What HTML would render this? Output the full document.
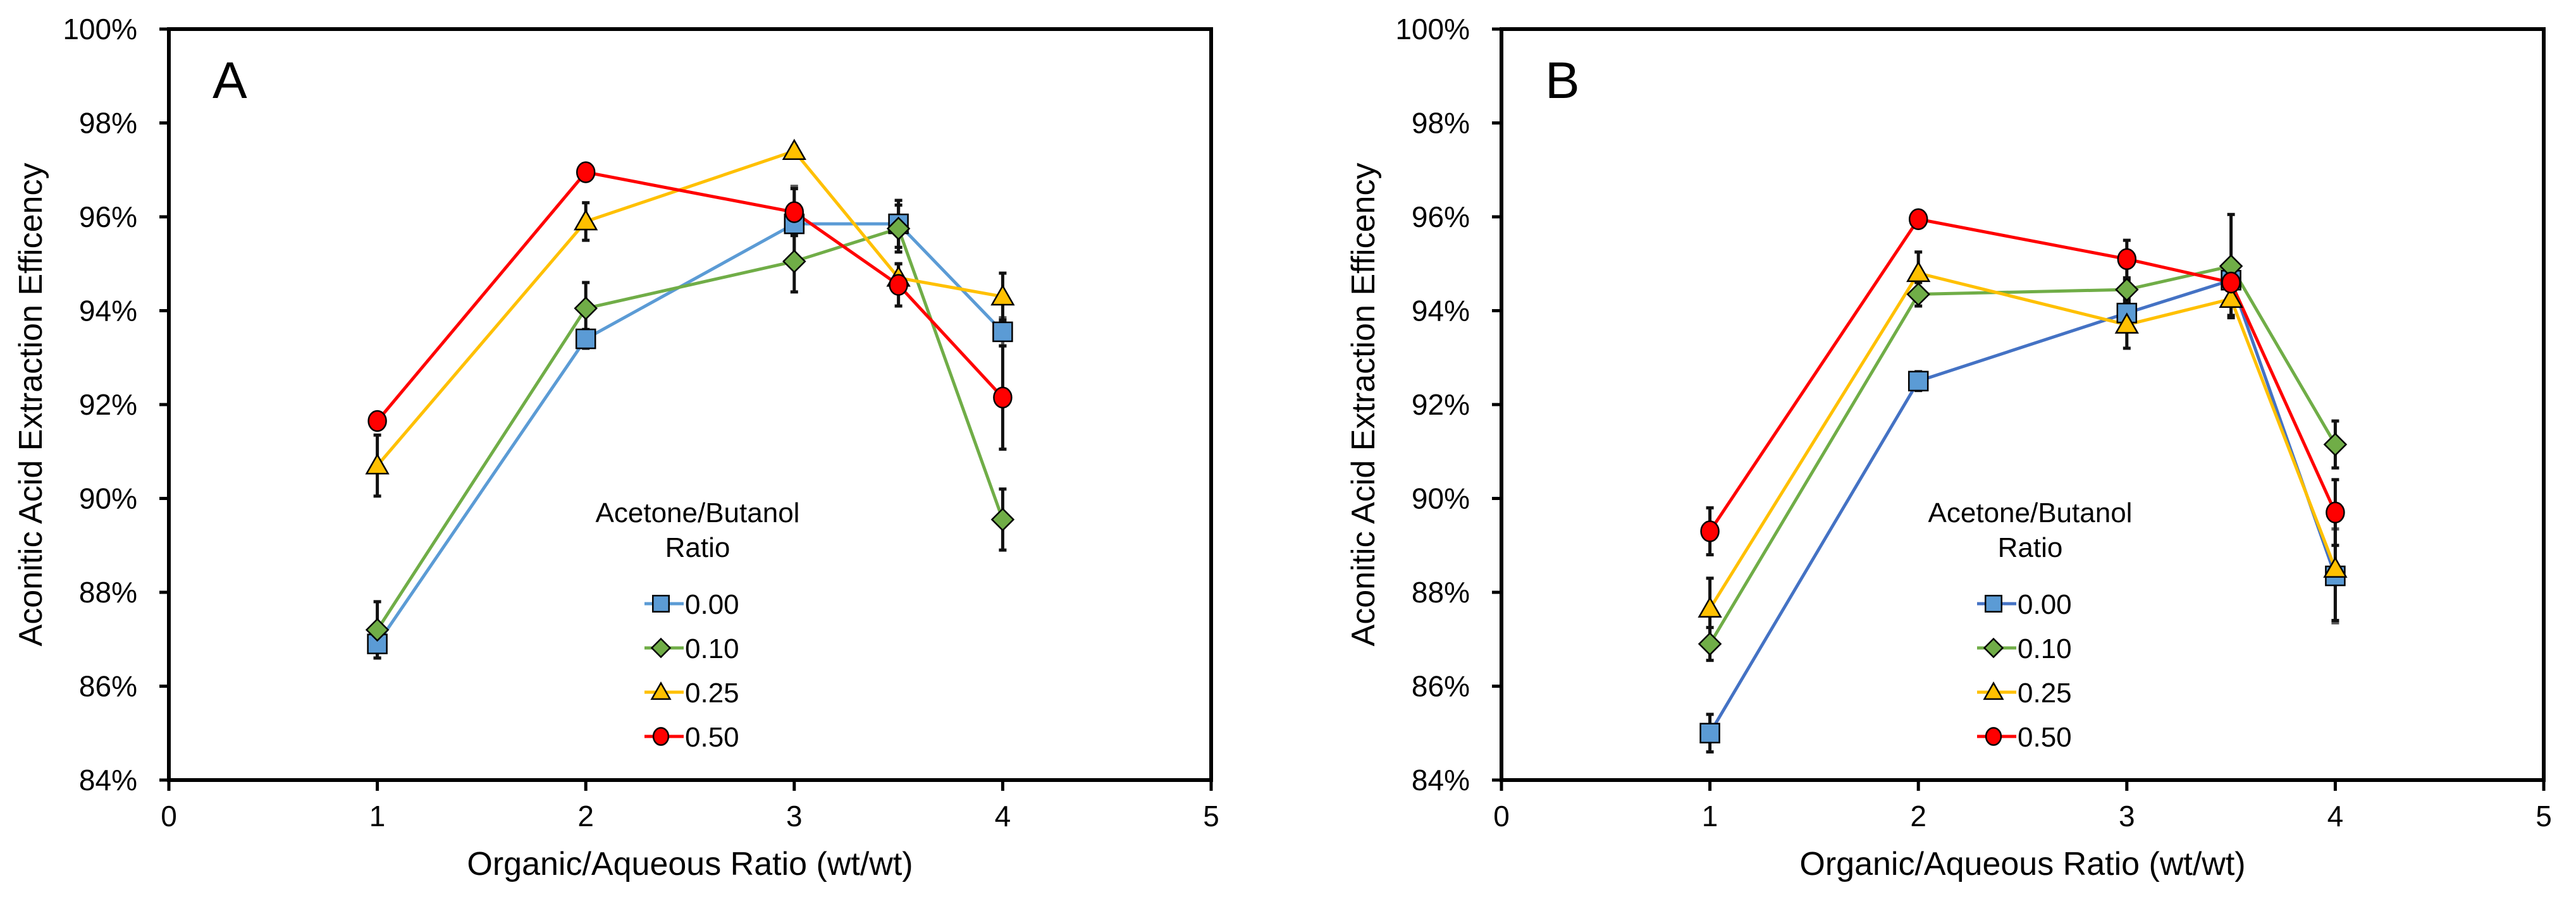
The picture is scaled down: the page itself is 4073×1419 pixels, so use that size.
<!DOCTYPE html>
<html><head><meta charset="utf-8"><style>
body{margin:0;background:#fff;}
svg{display:block;font-family:"Liberation Sans",Arial,sans-serif;}
</style></head><body>
<svg id="chart" width="4073" height="1419" viewBox="0 0 4073 1419" xmlns="http://www.w3.org/2000/svg"></svg>
<script>
const xTicks = [0,1,2,3,4,5];
const yTicks = [84,86,88,90,92,94,96,98,100];
const xVals = [1,2,3,3.5,4];
const seriesNames = ["0.00","0.10","0.25","0.50"];
const seriesColors = ["#5B9BD5","#70AD47","#FFC000","#FF0000"];
const markerShapes = ["square","diamond","triangle","circle"];
// Panel A values
const a000 = [86.9,93.4,95.85,95.85,93.55];
const a010 = [87.2,94.05,95.05,95.75,89.55];
const a025 = [90.7,95.9,97.4,94.7,94.3];
const a050 = [91.65,96.95,96.1,94.55,92.15];
const aErr000 = [0.3,0.2,0.8,0.5,0.3];
const aErr010 = [0.6,0.55,0.65,0.5,0.65];
const aErr025 = [0.65,0.4,0.1,0.3,0.5];
const aErr050 = [0.1,0.1,0.5,0.45,1.1];
// Panel B values
const b000 = [85.0,92.5,93.95,94.65,88.35];
const b010 = [86.9,94.35,94.45,94.95,91.15];
const b025 = [87.65,94.8,93.7,94.25,88.5];
const b050 = [89.3,95.95,95.1,94.6,89.7];
const bErr000 = [0.4,0.2,0.2,0.2,1.0];
const bErr010 = [0.35,0.25,0.2,1.1,0.5];
const bErr025 = [0.65,0.45,0.5,0.35,1.1];
const bErr050 = [0.5,0.1,0.4,0.3,0.7];

const NS="http://www.w3.org/2000/svg";
const svg=document.getElementById('chart');
function mk(tag,attrs,parent){const e=document.createElementNS(NS,tag);for(const k in attrs)e.setAttribute(k,attrs[k]);(parent||svg).appendChild(e);return e;}

function panel(ox,label,vals,errs,lineColors,pname){
  const g=mk('g',{});
  
  
  const L=ox,R=ox+1648,T=46,B=1234;
  const xs=v=>L+(v-0)/5*(R-L);
  const ys=v=>B-(v-84)/16*(B-T);
  const fr=mk('rect',{x:L,y:T,width:R-L,height:B-T,fill:'none',stroke:'#000','stroke-width':6},g);
  
  
  yTicks.forEach(t=>{
    const y=ys(t);
    mk('line',{x1:L-15,y1:y,x2:L,y2:y,stroke:'#000','stroke-width':5},g);
    const tx=mk('text',{x:L-50,y:y+16,'font-size':46,'text-anchor':'end',fill:'#000'},g);
    tx.textContent=t+'%';
    
    
  });
  xTicks.forEach(t=>{
    const x=xs(t);
    mk('line',{x1:x,y1:B,x2:x,y2:B+17,stroke:'#000','stroke-width':5},g);
    const tx=mk('text',{x:x,y:1307,'font-size':46,'text-anchor':'middle',fill:'#000'},g);
    tx.textContent=t;
    
    
  });
  const xt=mk('text',{x:(L+R)/2,y:1384,'font-size':52,'text-anchor':'middle',fill:'#000'},g);
  xt.textContent='Organic/Aqueous Ratio (wt/wt)';
  
  
  const ytt=mk('text',{x:0,y:0,'font-size':52,'text-anchor':'middle',fill:'#000',transform:`translate(${ox-201},${(T+B)/2}) rotate(-90)`},g);
  ytt.textContent='Aconitic Acid Extraction Efficency';
  
  
  const pl=mk('text',{x:L+69,y:155,'font-size':82,fill:'#000'},g);
  pl.textContent=label;
  
  
  vals.forEach((s,i)=>{
    const p=mk('polyline',{points:s.map((v,j)=>xs(xVals[j])+','+ys(v)).join(' '),fill:'none',stroke:lineColors[i],'stroke-width':5,'stroke-linejoin':'round'},g);
    
    
  });
  vals.forEach((s,i)=>{
    s.forEach((v,j)=>{
      const x=xs(xVals[j]),y1=ys(v-errs[i][j]),y2=ys(v+errs[i][j]);
      const eb=mk('g',{stroke:(j===2||j===4)&&i===0?'#555':'#111','stroke-width':5},g);
      
      
      mk('line',{x1:x,y1:y1,x2:x,y2:y2},eb);
      mk('line',{x1:x-6,y1:y1,x2:x+6,y2:y1},eb);
      mk('line',{x1:x-6,y1:y2,x2:x+6,y2:y2},eb);
    });
  });
  vals.forEach((s,i)=>{
    s.forEach((v,j)=>{
      const m=marker(markerShapes[i],xs(xVals[j]),ys(v),seriesColors[i],g);
      
      
    });
  });
  const lt=mk('text',{x:L+836,y:826,'font-size':44,'text-anchor':'middle',fill:'#000'},g);
  lt.textContent='Acetone/Butanol';
  
  
  const lt2=mk('text',{x:L+836,y:881,'font-size':44,'text-anchor':'middle',fill:'#000'},g);
  lt2.textContent='Ratio';
  
  
  seriesNames.forEach((n,i)=>{
    const y=955+i*70;
    const le=mk('g',{},g);
    
    
    mk('line',{x1:L+752,y1:y,x2:L+814,y2:y,stroke:lineColors[i],'stroke-width':5},le);
    marker(markerShapes[i],L+778,y,seriesColors[i],le,0.85);
    const t=mk('text',{x:L+816,y:y+16,'font-size':44,fill:'#000'},le);
    t.textContent=n;
  });
}
function marker(shape,x,y,c,parent,sc){
  sc=sc||1;let e;
  const a={fill:c,stroke:'#000','stroke-width':2.5};
  if(shape==='square'){const h=15*sc;e=mk('rect',Object.assign({x:x-h,y:y-h,width:2*h,height:2*h},a),parent);}
  else if(shape==='diamond'){const h=17*sc;e=mk('polygon',Object.assign({points:`${x},${y-h} ${x+h},${y} ${x},${y+h} ${x-h},${y}`},a),parent);}
  else if(shape==='triangle'){const h=17*sc;e=mk('polygon',Object.assign({points:`${x},${y-h} ${x+h},${y+h*0.75} ${x-h},${y+h*0.75}`},a),parent);}
  else {e=mk('ellipse',Object.assign({cx:x,cy:y,rx:14*sc,ry:16*sc},a),parent);}
  return e;
}
panel(267,'A',[a000,a010,a025,a050],[aErr000,aErr010,aErr025,aErr050],["#5B9BD5","#70AD47","#FFC000","#FF0000"],'panel-a');
panel(2374,'B',[b000,b010,b025,b050],[bErr000,bErr010,bErr025,bErr050],["#4472C4","#70AD47","#FFC000","#FF0000"],'panel-b');
</script>
</body></html>
